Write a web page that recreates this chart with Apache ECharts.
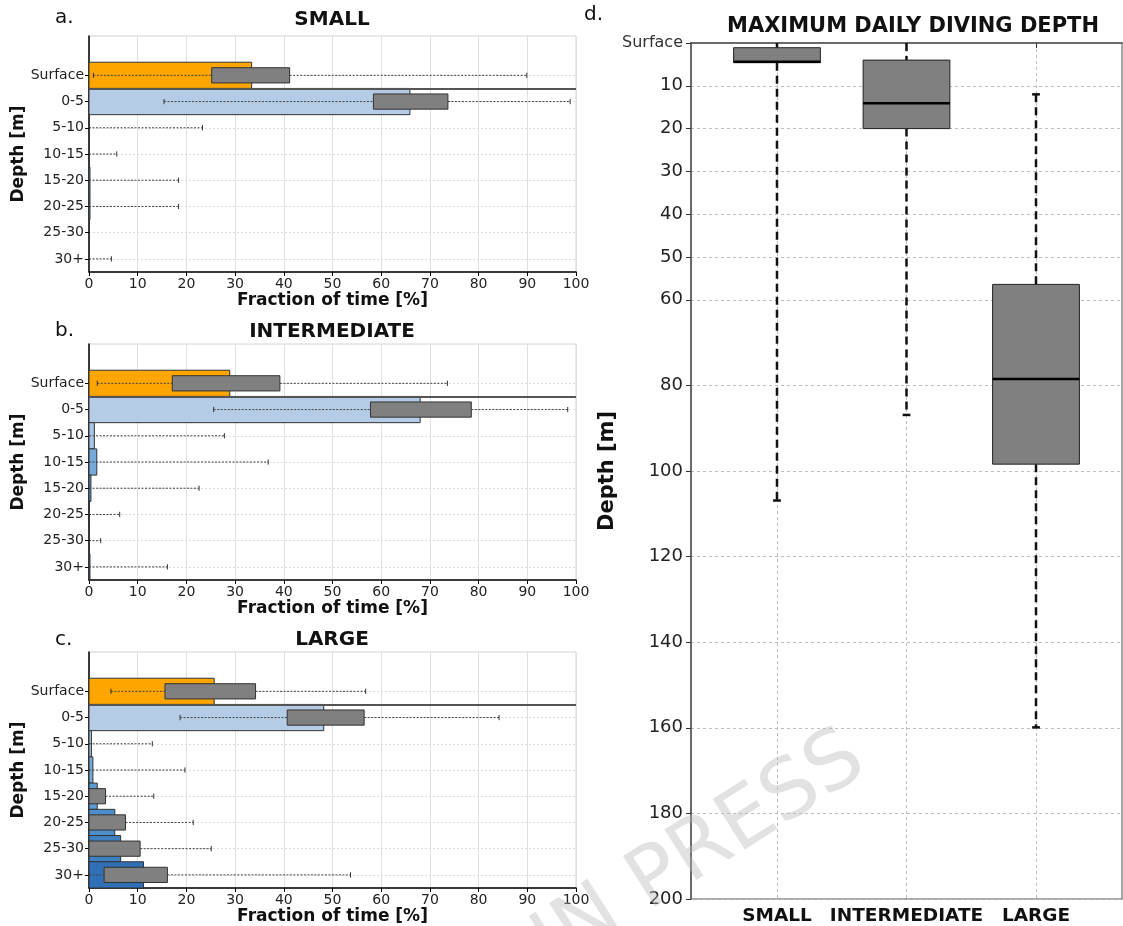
<!DOCTYPE html>
<html>
<head>
<meta charset="utf-8">
<title>Diving depth</title>
<script src="https://cdn.jsdelivr.net/npm/echarts@6/dist/echarts.min.js"></script>
<style>
  html, body { margin: 0; padding: 0; background: #fff; }
  #chart { width: 1123px; height: 926px; }
</style>
</head>
<body>
<div id="chart"></div>
<script>
// rows of panels a-c
const depthBins = ['Surface', '0-5', '5-10', '10-15', '15-20', '20-25', '25-30', '30+'];
const binColors = ['#ffa500', '#b4cce6', '#a5c6e4', '#74a9d9', '#5d9bd3', '#4c8dcb', '#3f80c3', '#2f70b7'];

// a. SMALL  (bar = mean fraction, box = q1..q3, whiskers = lo..hi)
const smallBar = [33.4, 65.9, 0, 0, 0.2, 0.2, 0, 0];
const smallQ1 = [25.2, 58.4, 0, 0, 0, 0, 0, 0];
const smallQ3 = [41.2, 73.7, 0, 0, 0, 0, 0, 0];
const smallLo = [0.9, 15.4, 0, 0, 0, 0, 0, 0];
const smallHi = [89.9, 98.8, 23.3, 5.7, 18.4, 18.4, 0, 4.6];

// b. INTERMEDIATE
const interBar = [28.9, 68.0, 1.1, 1.6, 0.4, 0.1, 0, 0.2];
const interQ1 = [17.1, 57.8, 0, 0, 0, 0, 0, 0];
const interQ3 = [39.2, 78.5, 0, 0, 0, 0, 0, 0];
const interLo = [1.7, 25.6, 0, 0, 0, 0, 0, 0];
const interHi = [73.6, 98.3, 27.8, 36.8, 22.6, 6.3, 2.4, 16.1];

// c. LARGE
const largeBar = [25.7, 48.2, 0.5, 0.8, 1.7, 5.3, 6.5, 11.2];
const largeQ1 = [15.6, 40.7, 0, 0, 0, 0, 0, 3.1];
const largeQ3 = [34.2, 56.5, 0, 0, 3.4, 7.5, 10.5, 16.1];
const largeLo = [4.5, 18.7, 0, 0, 0, 0, 0, 0];
const largeHi = [56.8, 84.2, 13.0, 19.7, 13.3, 21.4, 25.1, 53.7];

// d. maximum daily diving depth [m]
const sizeClasses = ['SMALL', 'INTERMEDIATE', 'LARGE'];
const maxDepthLo = [0, 0, 12];
const maxDepthQ1 = [1.1, 4, 56.4];
const maxDepthMed = [4.4, 14.1, 78.5];
const maxDepthQ3 = [4.6, 20, 98.4];
const maxDepthHi = [106.9, 86.9, 159.9];
const depthTicks = [0, 10, 20, 30, 40, 50, 60, 80, 100, 120, 140, 160, 180, 200];

const FONT = 'DejaVu Sans';
const chart = echarts.init(document.getElementById('chart'));

function rowData(bar, q1, q3, lo, hi) {
  return depthBins.map((_, i) => [i, bar[i], q1[i], q3[i], lo[i], hi[i]]);
}

// one row: coloured bar, grey box, dotted whiskers
function renderRow(params, api) {
  const i = api.value(0);
  const bar = api.value(1), q1 = api.value(2), q3 = api.value(3);
  const lo = api.value(4), hi = api.value(5);
  const kids = [];
  const rect = (x0, x1, y0, y1, style) => {
    const a = api.coord([x0, y0]), b = api.coord([x1, y1]);
    return {
      type: 'rect',
      shape: { x: Math.min(a[0], b[0]), y: Math.min(a[1], b[1]),
               width: Math.abs(b[0] - a[0]), height: Math.abs(b[1] - a[1]) },
      style: style
    };
  };
  const line = (x0, y0, x1, y1, style) => {
    const a = api.coord([x0, y0]), b = api.coord([x1, y1]);
    return { type: 'line', shape: { x1: a[0], y1: a[1], x2: b[0], y2: b[1] }, style: style };
  };
  const whisk = { stroke: '#444', lineWidth: 1, lineDash: [2, 1.5] };
  const cap = { stroke: '#333', lineWidth: 1 };

  if (bar > 0) kids.push(rect(0, bar, i - 0.5, i + 0.5, { fill: binColors[i], stroke: '#333', lineWidth: 1 }));
  if (lo < q1) {
    kids.push(line(lo, i, q1, i, whisk));
    kids.push(line(lo, i - 0.1, lo, i + 0.1, cap));
  }
  if (hi > q3) {
    kids.push(line(q3, i, hi, i, whisk));
    kids.push(line(hi, i - 0.1, hi, i + 0.1, cap));
  }
  if (q3 > q1) kids.push(rect(q1, q3, i - 0.29, i + 0.29, { fill: '#808080', stroke: '#333', lineWidth: 1 }));
  return { type: 'group', children: kids };
}

function renderDive(params, api) {
  const x = api.value(0);
  const lo = api.value(1), q1 = api.value(2), med = api.value(3);
  const q3 = api.value(4), hi = api.value(5);
  const hw = 0.335, cw = 0.03;
  const kids = [];
  const line = (x0, y0, x1, y1, style) => {
    const a = api.coord([x0, y0]), b = api.coord([x1, y1]);
    return { type: 'line', shape: { x1: a[0], y1: a[1], x2: b[0], y2: b[1] }, style: style };
  };
  const dash = { stroke: '#111', lineWidth: 2.5, lineDash: [8, 5] };
  const capStyle = { stroke: '#111', lineWidth: 2.5 };
  kids.push(line(x, lo, x, q1, dash));
  kids.push(line(x, q3, x, hi, dash));
  if (lo > 0) kids.push(line(x - cw, lo, x + cw, lo, capStyle));
  kids.push(line(x - cw, hi, x + cw, hi, capStyle));
  const a = api.coord([x - hw, q1]), b = api.coord([x + hw, q3]);
  kids.push({
    type: 'rect',
    shape: { x: a[0], y: Math.min(a[1], b[1]), width: b[0] - a[0], height: Math.abs(b[1] - a[1]) },
    style: { fill: '#808080', stroke: '#222', lineWidth: 1 }
  });
  kids.push(line(x - hw, med, x + hw, med, { stroke: '#000', lineWidth: 2.5 }));
  return { type: 'group', children: kids };
}

// panels a-c share the same look, only the vertical spot differs
const panelTops = [36, 344, 652];
const panelH = 236;
const rowIdx = depthBins.map((_, i) => i);

const grids = panelTops.map(t => ({
  left: 89, top: t, width: 487, height: panelH,
  show: true, borderColor: '#d4d4d4', borderWidth: 1
}));
grids.push({ left: 691, top: 43, width: 431, height: 856, show: true, borderColor: '#8a8a8a', borderWidth: 1.5 });

const xAxes = panelTops.map((_, k) => ({
  type: 'value', gridIndex: k, min: 0, max: 100, interval: 10,
  axisLine: { show: true, onZero: false, lineStyle: { color: '#000', width: 1.5 } },
  axisTick: { show: true, length: 4, lineStyle: { color: '#000' } },
  axisLabel: { fontFamily: FONT, fontSize: 14, color: '#222', margin: 5 },
  splitLine: { show: true, lineStyle: { color: '#e0e0e0', width: 1 } },
  name: 'Fraction of time [%]', nameLocation: 'middle', nameGap: 20,
  nameTextStyle: { fontFamily: FONT, fontSize: 17, fontWeight: 'bold', color: '#111' }
}));
xAxes.push({
  type: 'value', gridIndex: 3, min: 0.336, max: 3.664,
  axisLine: { show: true, lineStyle: { color: '#555', width: 1.5 } },
  axisTick: { show: true, length: 5, customValues: [1, 2, 3], lineStyle: { color: '#333' } },
  axisLabel: {
    customValues: [1, 2, 3], margin: 8,
    fontFamily: FONT, fontSize: 18.5, fontWeight: 'bold', color: '#111',
    formatter: v => sizeClasses[Math.round(v) - 1]
  },
  splitLine: { show: true, lineStyle: { color: '#bdbdbd', width: 1, type: [3, 3] } }
});

const yAxes = panelTops.map((_, k) => ({
  type: 'value', gridIndex: k, min: -1.5, max: 7.5, inverse: true,
  axisLine: { show: true, onZero: false, lineStyle: { color: '#000', width: 1.5 } },
  axisTick: { show: true, length: 4, customValues: rowIdx, lineStyle: { color: '#000' } },
  axisLabel: {
    customValues: rowIdx, margin: 5,
    fontFamily: FONT, fontSize: 14, color: '#222',
    formatter: v => depthBins[Math.round(v)]
  },
  splitLine: { show: true, lineStyle: { color: '#dcdcdc', width: 1, type: [2, 2] } },
  name: 'Depth [m]', nameLocation: 'middle', nameGap: 60, nameRotate: 90,
  nameTextStyle: { fontFamily: FONT, fontSize: 17, fontWeight: 'bold', color: '#111' }
}));
yAxes.push({
  type: 'value', gridIndex: 3, min: 0, max: 200, inverse: true,
  axisLine: { show: true, lineStyle: { color: '#555', width: 1.5 } },
  axisTick: { show: true, length: 5, customValues: depthTicks, lineStyle: { color: '#333' } },
  axisLabel: {
    customValues: depthTicks, margin: 8,
    fontFamily: FONT, fontSize: 18, color: '#222',
    formatter: v => (v === 0 ? '{s|Surface}' : String(v)),
    rich: { s: { fontFamily: FONT, fontSize: 16, color: '#333' } }
  },
  splitLine: { show: true, lineStyle: { color: '#bdbdbd', width: 1, type: [3, 3] } },
  name: 'Depth [m]', nameLocation: 'middle', nameGap: 72, nameRotate: 90,
  nameTextStyle: { fontFamily: FONT, fontSize: 21, fontWeight: 'bold', color: '#111' }
});

const panelSets = [
  rowData(smallBar, smallQ1, smallQ3, smallLo, smallHi),
  rowData(interBar, interQ1, interQ3, interLo, interHi),
  rowData(largeBar, largeQ1, largeQ3, largeLo, largeHi)
];

const series = panelSets.map((data, k) => ({
  type: 'custom', xAxisIndex: k, yAxisIndex: k,
  renderItem: renderRow, data: data,
  encode: { x: [1, 2, 3, 4, 5], y: 0 },
  silent: true,
  // water surface line between "Surface" and "0-5"
  markLine: {
    silent: true, symbol: 'none', label: { show: false },
    lineStyle: { color: '#555', width: 2, type: 'solid' },
    data: [{ yAxis: 0.5 }]
  }
}));
series.push({
  type: 'custom', xAxisIndex: 3, yAxisIndex: 3,
  renderItem: renderDive, silent: true,
  data: sizeClasses.map((_, k) => [k + 1, maxDepthLo[k], maxDepthQ1[k], maxDepthMed[k], maxDepthQ3[k], maxDepthHi[k]]),
  encode: { x: 0, y: [1, 2, 3, 4, 5] }
});

const txt = (text, x, y, size, bold, align) => ({
  type: 'text', x: x, y: y, silent: true,
  style: {
    text: text, fill: '#111', textAlign: align || 'center', textVerticalAlign: 'middle',
    font: (bold ? 'bold ' : '') + size + 'px "' + FONT + '"'
  }
});

const option = {
  animation: false,
  grid: grids,
  xAxis: xAxes,
  yAxis: yAxes,
  series: series,
  graphic: [
    txt('a.', 55, 18, 20, false, 'left'),
    txt('SMALL', 332, 20, 20, true),
    txt('b.', 55, 331, 20, false, 'left'),
    txt('INTERMEDIATE', 332, 332, 20, true),
    txt('c.', 55, 640, 20, false, 'left'),
    txt('LARGE', 332, 640, 20, true),
    txt('d.', 584, 15, 20, false, 'left'),
    txt('MAXIMUM DAILY DIVING DEPTH', 913, 27, 21, true),
    {
      type: 'text', x: 858, y: 752, rotation: 0.567, silent: true, z: 100,
      style: {
        text: 'IN PRESS', fill: 'rgba(185,185,185,0.42)',
        textAlign: 'right', textVerticalAlign: 'middle',
        font: '82px "' + FONT + '"'
      }
    }
  ]
};
chart.setOption(option);
</script>
</body>
</html>
